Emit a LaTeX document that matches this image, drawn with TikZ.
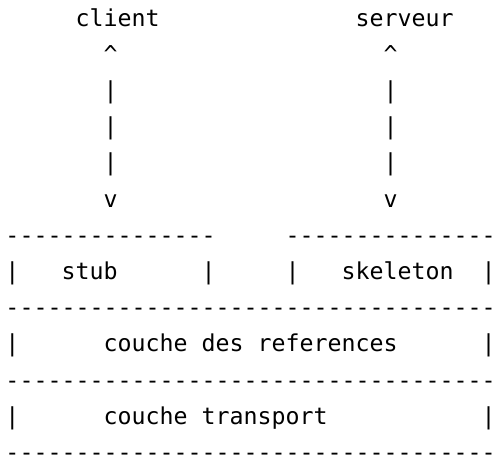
\documentclass[tikz,border=0pt]{standalone}
\usepackage{fontspec}
\setmonofont{DejaVu Sans Mono}

\begin{document}
\begin{tikzpicture}[x = 14pt, y = -36.2pt,
		every node/.style = {anchor=base west, inner sep=0pt, font=\ttfamily\fontsize{23.26pt}{36.2pt}\selectfont}]
		
		\useasboundingbox (-5.3pt,26pt) rectangle (486.7pt,-429pt);
		
		\node (client) at (5,0) {client};
		\node (serveur) at (25,0) {serveur};
		\node (c1) at (7,1) {\textasciicircum};
		\node (s1) at (27,1) {\textasciicircum};
		\node (c2) at (7,2) {|};
		\node (s2) at (27,2) {|};
		\node (c3) at (7,3) {|};
		\node (s3) at (27,3) {|};
		\node (c4) at (7,4) {|};
		\node (s4) at (27,4) {|};
		\node (c5) at (7,5) {v};
		\node (s5) at (27,5) {v};
		
		\node (h0) at (0,6) {---------------};
		\node (h1) at (20,6) {---------------};
		\node (b0) at (0,7) {|};
		\node (stub) at (4,7) {stub};
		\node (b1) at (14,7) {|};
		\node (b2) at (20,7) {|};
		\node (skeleton) at (24,7) {skeleton};
		\node (b3) at (34,7) {|};
		
		\node (h2) at (0,8) {-----------------------------------};
		\node (b4) at (0,9) {|};
		\node (refs) at (7,9) {couche des references};
		\node (b5) at (34,9) {|};
		\node (h3) at (0,10) {-----------------------------------};
		\node (b6) at (0,11) {|};
		\node (transport) at (7,11) {couche transport};
		\node (b7) at (34,11) {|};
		\node (h4) at (0,12) {-----------------------------------};
	\end{tikzpicture}
\end{document}
